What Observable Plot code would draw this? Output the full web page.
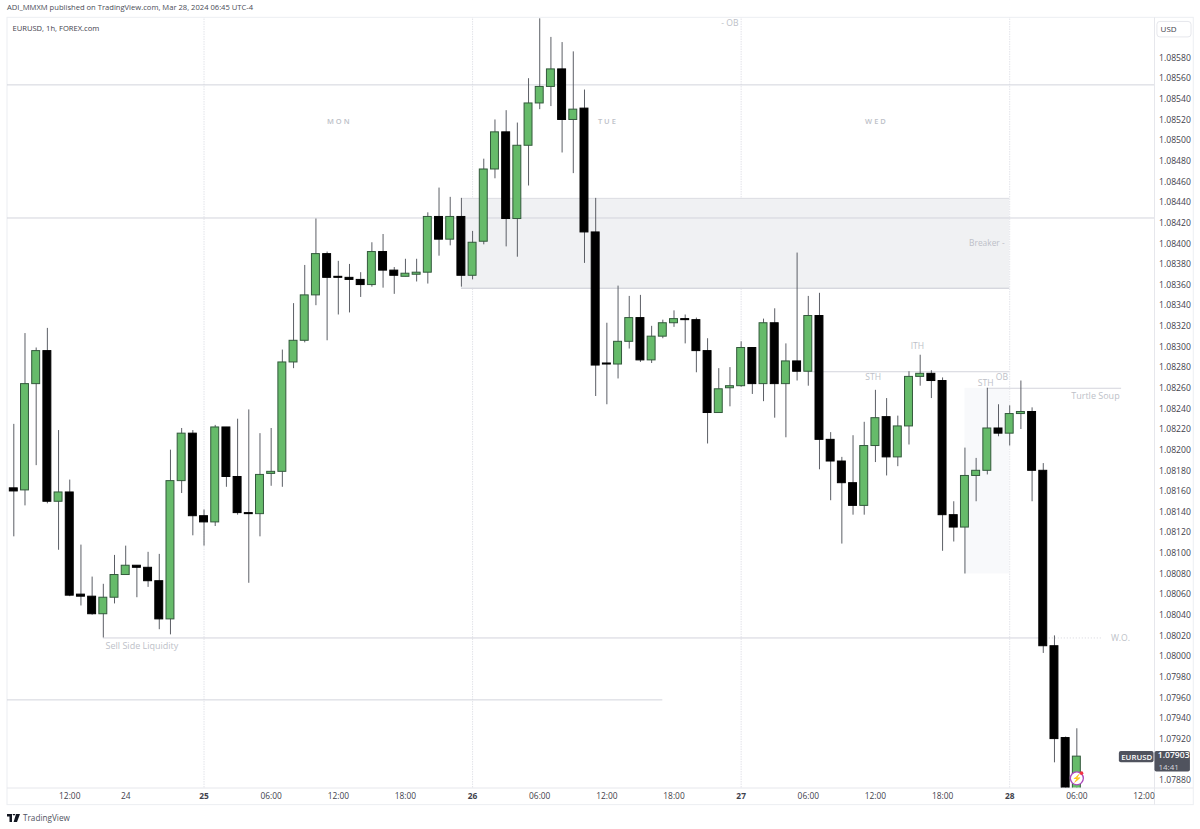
<!DOCTYPE html>
<html><head><meta charset="utf-8">
<script src="https://cdn.jsdelivr.net/npm/d3@7"></script>
<script src="https://cdn.jsdelivr.net/npm/@observablehq/plot@0.6"></script>
<style>
html,body{margin:0;padding:0;background:#fff;width:1200px;height:829px;overflow:hidden;font-family:"Open Sans",sans-serif}
#head{height:17px;line-height:15px;font-size:7.6px;color:#4a4d57;padding-left:7px;box-sizing:border-box;white-space:nowrap}
#chart svg{display:block}
#foot{height:23px;display:flex;align-items:center;padding-left:7px;font-size:8.2px;color:#50535e;gap:3px}
</style></head><body>
<div id="head">ADI_MMXM published on TradingView.com, Mar 28, 2024 06:45 UTC-4</div>
<div id="chart"></div>
<div id="foot"><svg width="13" height="8" viewBox="0 0 13 8"><path d="M0 0H5V8H2.5V2.4H0Z M5.6 0H8.4L8.3 .1A1 1 0 0 1 5.6 0Z M9 0H13L10 8H6.6Z" fill="#131722"/></svg><span>TradingView</span></div>
<script>
const opens = [1.08163,1.08161,1.08264,1.08296,1.08150,1.08159,1.08060,1.08058,1.08041,1.08057,1.08079,1.08088,1.08086,1.08073,1.08036,1.08170,1.08216,1.08136,1.08130,1.08222,1.08174,1.08139,1.08138,1.08177,1.08179,1.08285,1.08306,1.08350,1.08390,1.08368,1.08367,1.08365,1.08360,1.08392,1.08374,1.08368,1.08370,1.08372,1.08426,1.08404,1.08426,1.08369,1.08402,1.08472,1.08508,1.08424,1.08495,1.08536,1.08552,1.08569,1.08520,1.08531,1.08411,1.08284,1.08283,1.08305,1.08328,1.08287,1.08310,1.08323,1.08327,1.08326,1.08296,1.08236,1.08260,1.08262,1.08299,1.08264,1.08323,1.08264,1.08286,1.08276,1.08330,1.08210,1.08189,1.08168,1.08146,1.08204,1.08232,1.08193,1.08223,1.08271,1.08274,1.08267,1.08137,1.08125,1.08175,1.08180,1.08221,1.08216,1.08235,1.08237,1.08180,1.08010,1.07921,1.07860];
const highs = [1.08225,1.08313,1.08299,1.08318,1.08219,1.08171,1.08108,1.08077,1.08070,1.08098,1.08107,1.08088,1.08101,1.08099,1.08200,1.08221,1.08219,1.08142,1.08224,1.08222,1.08230,1.08239,1.08216,1.08221,1.08297,1.08342,1.08379,1.08424,1.08392,1.08383,1.08380,1.08372,1.08401,1.08409,1.08377,1.08385,1.08385,1.08430,1.08454,1.08445,1.08444,1.08412,1.08482,1.08520,1.08529,1.08517,1.08560,1.08618,1.08600,1.08595,1.08586,1.08549,1.08444,1.08323,1.08359,1.08349,1.08350,1.08320,1.08326,1.08335,1.08331,1.08328,1.08308,1.08279,1.08280,1.08305,1.08299,1.08327,1.08337,1.08303,1.08391,1.08349,1.08352,1.08217,1.08193,1.08214,1.08227,1.08258,1.08250,1.08233,1.08276,1.08292,1.08277,1.08270,1.08150,1.08202,1.08192,1.08260,1.08244,1.08243,1.08267,1.08241,1.08187,1.08020,1.07922,1.07930];
const lows = [1.08116,1.08146,1.08185,1.08148,1.08103,1.08058,1.08049,1.08040,1.08018,1.08051,1.08079,1.08057,1.08067,1.08026,1.08021,1.08158,1.08117,1.08107,1.08126,1.08164,1.08137,1.08071,1.08116,1.08165,1.08164,1.08279,1.08304,1.08340,1.08306,1.08331,1.08333,1.08348,1.08358,1.08357,1.08351,1.08368,1.08363,1.08361,1.08388,1.08398,1.08358,1.08365,1.08399,1.08463,1.08397,1.08387,1.08456,1.08530,1.08533,1.08488,1.08468,1.08381,1.08252,1.08244,1.08269,1.08298,1.08285,1.08284,1.08308,1.08319,1.08303,1.08275,1.08206,1.08236,1.08242,1.08261,1.08254,1.08247,1.08231,1.08212,1.08267,1.08262,1.08181,1.08151,1.08109,1.08137,1.08137,1.08188,1.08175,1.08184,1.08205,1.08262,1.08250,1.08102,1.08111,1.08080,1.08150,1.08176,1.08213,1.08204,1.08220,1.08150,1.08003,1.07897,1.07850,1.07855];
const closes = [1.08160,1.08264,1.08296,1.08150,1.08159,1.08059,1.08058,1.08041,1.08057,1.08079,1.08088,1.08086,1.08073,1.08036,1.08170,1.08216,1.08136,1.08130,1.08222,1.08174,1.08139,1.08138,1.08176,1.08179,1.08285,1.08306,1.08350,1.08390,1.08367,1.08367,1.08365,1.08360,1.08392,1.08374,1.08369,1.08371,1.08372,1.08426,1.08404,1.08426,1.08369,1.08401,1.08472,1.08508,1.08424,1.08495,1.08536,1.08552,1.08569,1.08520,1.08530,1.08411,1.08282,1.08283,1.08305,1.08328,1.08287,1.08310,1.08323,1.08327,1.08326,1.08296,1.08236,1.08259,1.08262,1.08299,1.08264,1.08323,1.08264,1.08286,1.08276,1.08330,1.08210,1.08189,1.08168,1.08146,1.08204,1.08231,1.08193,1.08223,1.08271,1.08274,1.08267,1.08137,1.08125,1.08175,1.08180,1.08221,1.08216,1.08235,1.08237,1.08180,1.08010,1.07920,1.07860,1.07903];

const priceTicks = [1.08580,1.08560,1.08540,1.08520,1.08500,1.08480,1.08460,1.08440,1.08420,1.08400,1.08380,1.08360,1.08340,1.08320,1.08300,1.08280,1.08260,1.08240,1.08220,1.08200,1.08180,1.08160,1.08140,1.08120,1.08100,1.08080,1.08060,1.08040,1.08020,1.08000,1.07980,1.07960,1.07940,1.07920,1.07880];
const hourTicks = [5,10,23,29,35,47,53,59,71,77,83,95,101];
const hourLabels = ["12:00","24","06:00","12:00","18:00","06:00","12:00","18:00","06:00","12:00","18:00","06:00","12:00"];
const dayTicks = [17,41,65,89];
const dayLabels = ["25","26","27","28"];

const hLines = [
  {a:-0.563,b:101.94,p:1.08554},
  {a:-0.563,b:101.94,p:1.08425},
  {a:71,b:89,p:1.08276},
  {a:87,b:99,p:1.08260},
  {a:8,b:92,p:1.08018},
  {a:-0.563,b:58,p:1.07958}
];
const dottedLines = [{a:92,b:97.3,p:1.08018}];
const zones = [
  {a:40,b:89,hi:1.08444,lo:1.08357,fill:"#f0f1f3",stroke:"#dcdde3"},
  {a:85,b:89,hi:1.08260,lo:1.08080,fill:"#f8f9fb",stroke:"none"}
];
const notesMiddle = [
  {t:"- OB",i:64,p:1.08614},
  {t:"STH",i:76.8,p:1.08271},
  {t:"ITH",i:80.75,p:1.08301},
  {t:"STH",i:86.85,p:1.08265},
  {t:"OB",i:88.3,p:1.08271},
  {t:"W.O.",i:98.9,p:1.08018}
];
const notesDays = [
  {t:"M O N",i:29,p:1.08518},
  {t:"T U E",i:53,p:1.08518},
  {t:"W E D",i:77,p:1.08518}
];
const notesEnd = [{t:"Breaker -",i:88.55,p:1.08400}];
const notesStart = [
  {t:"Sell Side Liquidity",i:8.2,p:1.08010},
  {t:"Turtle Soup",i:94.5,p:1.08252}
];

const candles = opens.map((o,i)=>({i,o,h:highs[i],l:lows[i],c:closes[i],up:closes[i]>=o}));
const w = 0.355;
const green = candles.filter(d=>d.up), black = candles.filter(d=>!d.up);
const noteStyle = {x:"i",y:"p",text:"t",fontSize:9,fill:"#bdbfc8"};

const chart = Plot.plot({
  width:1200,height:789,marginLeft:7,marginRight:46,marginTop:0,marginBottom:18.5,
  style:{fontFamily:'"Open Sans",sans-serif',background:"#fff",overflow:"visible"},
  x:{type:"linear",domain:[-0.563,101.94],label:null,axis:null},
  y:{type:"linear",domain:[1.078726,1.086193],label:null,axis:null},
  marks:[
    // outer frame and axis separators
    Plot.rect([0],{x1:-0.563,x2:105.45,y1:1.08619,y2:1.07856,fill:"none",stroke:"#eceef2",clip:false}),
    Plot.ruleX([101.94],{y1:1.08619,y2:1.07856,stroke:"#e6e7ec",clip:false}),
    Plot.ruleY([1.078726],{x1:-0.563,x2:105.45,stroke:"#e6e7ec",clip:false}),
    // day grid
    Plot.ruleX(dayTicks,{stroke:"#e3e4ea",strokeDasharray:"1.5,1",y1:1.078726,y2:1.08619}),
    // zones
    Plot.rect(zones,{x1:"a",x2:"b",y1:"lo",y2:"hi",fill:"fill"}),
    Plot.ruleY(zones.filter(z=>z.stroke!=="none"),{y:"hi",x1:"a",x2:"b",stroke:"stroke",strokeWidth:1}),
    Plot.ruleY(zones.filter(z=>z.stroke!=="none"),{y:"lo",x1:"a",x2:"b",stroke:"#d6d7de",strokeWidth:1.5}),
    // levels
    Plot.ruleY(hLines,{y:"p",x1:"a",x2:"b",stroke:"#d3d4dc",strokeWidth:1}),
    Plot.ruleY(dottedLines,{y:"p",x1:"a",x2:"b",stroke:"#d3d4dc",strokeDasharray:"1,2"}),
    // axes
    Plot.text(priceTicks,{x:102.35,y:d=>d,text:d=>d.toFixed(5),textAnchor:"start",fontSize:8.6,fill:"#3f424c"}),
    Plot.axisX({anchor:"bottom",ticks:hourTicks,tickSize:0,tickPadding:5,tickFormat:d=>hourLabels[hourTicks.indexOf(d)],fontSize:8.4,fill:"#3f424c",label:null}),
    Plot.axisX({anchor:"bottom",ticks:dayTicks,tickSize:0,tickPadding:5,tickFormat:d=>dayLabels[dayTicks.indexOf(d)],fontSize:8.4,fontWeight:700,fill:"#3f424c",label:null}),
    // annotations
    Plot.text(notesMiddle,{...noteStyle,textAnchor:"middle",fontSize:8.6}),
    Plot.text(notesDays,{...noteStyle,textAnchor:"middle",fontSize:7.5,fontWeight:600}),
    Plot.text(notesEnd,{...noteStyle,textAnchor:"end",fontSize:8.4}),
    Plot.text(notesStart,{...noteStyle,textAnchor:"start"}),
    // candles
    Plot.ruleX(candles,{x:"i",y1:"l",y2:"h",stroke:"#5c5f66",strokeWidth:1,clip:"frame"}),
    Plot.rect(green,{x1:d=>d.i-w,x2:d=>d.i+w,y1:"o",y2:"c",fill:"#66bb6a",stroke:"#33593c",strokeWidth:1,clip:"frame"}),
    Plot.rect(black,{x1:d=>d.i-w,x2:d=>d.i+w,y1:"o",y2:"c",fill:"#000",stroke:"#000",strokeWidth:1,clip:"frame"}),
    // last price
    Plot.rect([0],{x1:98.8,x2:101.9,y1:1.07897,y2:1.07908,fill:"#50535e",rx:2}),
    Plot.text(["EURUSD"],{x:100.35,y:1.079025,fontSize:7.8,fontWeight:600,fill:"#fff"}),
    Plot.rect([0],{x1:101.98,x2:105.15,y1:1.07888,y2:1.07908,fill:"#50535e",rx:2}),
    Plot.text(["1.07903"],{x:103.65,y:1.07904,fontSize:8.6,fontWeight:600,fill:"#fff"}),
    Plot.text(["14:41"],{x:103.2,y:1.07893,fontSize:8,fill:"#d5d6dc"}),
    Plot.dot([0],{x:95,y:1.07882,r:6.5,fill:"#fff",stroke:"#ab47bc",strokeWidth:1.3}),
    Plot.text(["⚡"],{x:95,y:1.07882,fontSize:8,fill:"#9c27b0"}),
    Plot.dot([0],{x:95.42,y:1.07887,r:1.8,fill:"#f23645"}),
    // currency box
    Plot.rect([0],{x1:102.2,x2:105.25,y1:1.08600,y2:1.08615,fill:"#fff",stroke:"#e6e7ec",rx:3}),
    Plot.text(["USD"],{x:103.2,y:1.086075,fontSize:8,fill:"#3f424c"}),
    // instrument title
    Plot.text(["EURUSD, 1h, FOREX.com"],{x:-0.12,y:1.08609,textAnchor:"start",fontSize:7.6,fill:"#3f424c"})
  ]
});
document.getElementById("chart").appendChild(chart);
</script>
</body></html>
